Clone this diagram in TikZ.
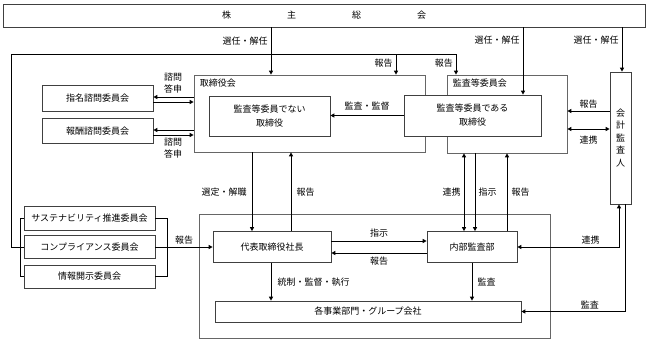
\documentclass[tikz,border=0pt]{standalone}
\usepackage{fontspec}
\setmainfont{Noto Sans CJK JP}
\usetikzlibrary{arrows.meta,positioning}

\begin{document}
\begin{tikzpicture}[
    x=1pt, y=-1pt,
    font=\fontsize{9}{14}\selectfont,
    box/.style={draw=black!75, line width=0.7pt, fill=white, inner sep=0pt, align=center},
    frame/.style={draw=black!60, line width=0.7pt, inner sep=0pt},
    arrow/.style={-{Triangle[length=4pt,width=4pt]}, line width=1pt},
    darrow/.style={{Triangle[length=4pt,width=4pt]}-{Triangle[length=4pt,width=4pt]}, line width=1pt},
    line/.style={line width=1pt},
    lbl/.style={inner sep=3pt, align=center}
]
    \useasboundingbox (0,0) rectangle (648,340);

    \node[box, minimum width=642, minimum height=23] (gm) at (324,15.5) {株\hspace{56pt}主\hspace{56pt}総\hspace{56pt}会};

    \node[frame, minimum width=231, minimum height=77] (board) at (309.5,113.5) {};
    \node[anchor=north west, inner sep=0pt] (boardlbl) at ([shift={(6pt,-4pt)}]board.north west) {取締役会};
    \node[frame, minimum width=120, minimum height=78] (acboard) at (507,114) {};
    \node[anchor=north west, inner sep=0pt] (acboardlbl) at ([shift={(6pt,-4pt)}]acboard.north west) {監査等委員会};
    \node[box, minimum width=121, minimum height=40] (nonaudit) at (269.5,116) {監査等委員でない\\取締役};
    \node[box, minimum width=137, minimum height=41] (audit) at (472.5,115.5) {監査等委員である\\取締役};
    \node[box, minimum width=21, minimum height=132, font=\fontsize{9}{12.5}\selectfont] (auditor) at (620.5,138) {会\\計\\監\\査\\人};

    \node[box, minimum width=111, minimum height=26] (nom) at (97.5,98) {指名諮問委員会};
    \node[box, minimum width=111, minimum height=25] (rem) at (97.5,131) {報酬諮問委員会};
    \node[box, minimum width=131, minimum height=24] (sus) at (89.5,218) {サステナビリティ推進委員会};
    \node[box, minimum width=131, minimum height=23] (comp) at (89.5,247) {コンプライアンス委員会};
    \node[box, minimum width=131, minimum height=23] (disc) at (89.5,276.5) {情報開示委員会};

    \node[frame, minimum width=351, minimum height=124] (execarea) at (374.5,276) {};
    \node[box, minimum width=118, minimum height=31] (ceo) at (272,247) {代表取締役社長};
    \node[box, minimum width=90, minimum height=31] (ia) at (472,247) {内部監査部};
    \node[box, minimum width=306, minimum height=21] (biz) at (368,311.5) {各事業部門・グループ会社};

    \draw[arrow] (gm.south -| 271,0) -- node[lbl, left, pos=0.28] (sel1) {選任・解任} (board.north -| 271,0);
    \draw[arrow] (gm.south -| 523,0) -- node[lbl, left, pos=0.19] (sel2) {選任・解任} (audit.north -| 523,0);
    \draw[arrow] (gm.south -| 622,0) -- node[lbl, left, pos=0.29] (sel3) {選任・解任} (auditor.north -| 622,0);

    \coordinate (rptop) at (11,54);
    \draw[line] (sus.west) -- ++(-3,0) |- (disc.west);
    \draw[arrow] (comp.west) -| (rptop) -| (acboard.north -| 456,0);
    \node[lbl, left] (rep2) at (456,63) {報告};
    \draw[arrow] (rptop -| 396,0) -- node[lbl, left, pos=0.45] (rep1) {報告} (board.north -| 396,0);

    \draw[arrow] (board.west |- 0,97) -- (nom.east |- 0,97);
    \draw[arrow] (nom.east |- 0,102) -- (board.west |- 0,102);
    \draw[arrow] (board.west |- 0,130) -- (rem.east |- 0,130);
    \draw[arrow] (rem.east |- 0,135) -- (board.west |- 0,135);
    \node[lbl, font=\fontsize{9}{12}\selectfont] (ask1) at (173,83) {諮問\\答申};
    \node[lbl, font=\fontsize{9}{12}\selectfont] (ask2) at (173,148) {諮問\\答申};

    \draw[arrow] (audit.west) -- node[lbl, above=1.5pt] (supv) {監査・監督} (nonaudit.east |- audit.west);

    \draw[arrow] (auditor.west |- 0,111) -- node[lbl, above, inner sep=2.5pt] (rep3) {報告} (acboard.east |- 0,111);
    \draw[darrow] (acboard.east |- 0,129) -- node[lbl, below=3pt] (coop1) {連携} (auditor.west |- 0,129);

    \draw[line] (sus.east) -- ++(12,0) |- (disc.east);
    \draw[arrow] (comp.east) -- node[lbl, above, inner sep=2.5pt] (rep4) {報告} (ceo.west);

    \draw[arrow] (board.south -| 252,0) -- node[lbl, left=2pt] (appt) {選定・解職} (ceo.north -| 252,0);
    \draw[arrow] (ceo.north -| 291,0) -- node[lbl, right=2pt] (rep5) {報告} (board.south -| 291,0);

    \draw[darrow] (acboard.south -| 464,0) -- node[lbl, left] (coop2) {連携} (ia.north -| 464,0);
    \draw[arrow] (acboard.south -| 475,0) -- node[lbl, right] (inst1) {指示} (ia.north -| 475,0);
    \draw[arrow] (ia.north -| 507,0) -- node[lbl, right=1pt] (rep6) {報告} (acboard.south -| 507,0);

    \draw[arrow] (ceo.east |- 0,241) -- node[lbl, above, inner sep=3.5pt] (inst2) {指示} (ia.west |- 0,241);
    \draw[arrow] (ia.west |- 0,253) -- node[lbl, below, inner sep=3.5pt] (rep7) {報告} (ceo.east |- 0,253);

    \draw[arrow] (ceo.south -| 271,0) -- node[lbl, right=3pt] (ctrl) {統制・監督・執行} (biz.north -| 271,0);
    \draw[arrow] (ia.south) -- node[lbl, right=2pt] (aud1) {監査} (biz.north -| ia.south);

    \draw[darrow] (auditor.south -| 619,0) |- node[lbl, above, pos=0.64, inner sep=2.5pt] (coop3) {連携} (ia.east);
    \draw[arrow] (auditor.south -| 625,0) |- node[lbl, above, pos=0.67, inner sep=2pt] (aud2) {監査} (biz.east);
\end{tikzpicture}
\end{document}
